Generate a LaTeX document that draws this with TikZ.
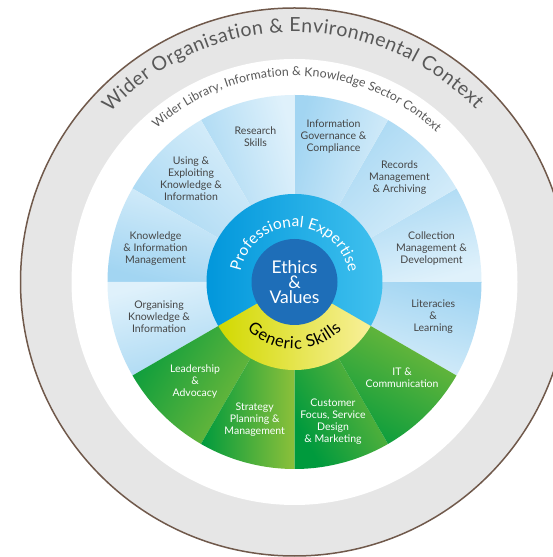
\documentclass[tikz,border=0pt]{standalone}
\usepackage{fontspec}
\setmainfont{Lato}
\usetikzlibrary{decorations.text}
\definecolor{ringgray}{HTML}{E6E6E6}
\definecolor{brownline}{HTML}{70594B}
\definecolor{txtgray}{HTML}{454545}
\definecolor{ctxgray}{HTML}{585858}
\definecolor{bdark}{HTML}{A2D5F2}
\definecolor{blight}{HTML}{DFF1FB}
\definecolor{gdark}{HTML}{009A3D}
\definecolor{glight}{HTML}{8CC03A}
\definecolor{ringblueL}{HTML}{0096DB}
\definecolor{ringblueR}{HTML}{45C4F0}
\definecolor{yelL}{HTML}{D2D900}
\definecolor{yelR}{HTML}{F8F09A}
\definecolor{ethicsblue}{HTML}{1E6EB8}
\begin{document}
\begin{tikzpicture}[x=1pt,y=1pt,
  seglabel/.style={align=center, font=\fontsize{10.5}{12}\selectfont, text=txtgray, inner sep=0pt},
  greenlabel/.style={seglabel, text=white}]
\useasboundingbox (0,0) rectangle (553,557);
\clip (0,0) rectangle (553,557);
\fill[white] (0,0) rectangle (553,557);
\begin{scope}[shift={(294.5,275)}]
\coordinate (C) at (0,0);
% outer rings
\draw[brownline, line width=1.5pt, fill=ringgray] (C) circle[radius=274];
\fill[white] (C) circle[radius=223];
% context texts
\path[decorate, decoration={text along path, text align={fit to path},
  text={|\fontsize{19.5}{20}\selectfont\color{ctxgray}|Wider Organisation {\&} Environmental Context}}]
  (137.5:250) arc[start angle=137.5, end angle=43.5, radius=250];
\path[decorate, decoration={text along path, text align={fit to path},
  text={|\fontsize{12.3}{13}\selectfont\color{ctxgray}|Wider Library, Information {\&} Knowledge Sector Context}}]
  (132:206) arc[start angle=132, end angle=46.5, radius=206];
% segments
\foreach \a in {-30,0,30,60,90,120,150,180}{
  \pgfmathsetmacro\sa{\a+15}
  \shade[top color=bdark, bottom color=blight, shading angle=\sa]
    (0,0) -- (\a:187) arc[start angle=\a, delta angle=30, radius=187] -- cycle;
}
\foreach \a in {210,240,270,300}{
  \pgfmathsetmacro\sa{\a+30}
  \shade[top color=glight, middle color=gdark!72!glight, bottom color=gdark, shading angle=\sa]
    (0,0) -- (\a:187) arc[start angle=\a, delta angle=30, radius=187] -- cycle;
}
% middle ring
\shade[left color=ringblueL, right color=ringblueR]
  (0,0) -- (-30:88) arc[start angle=-30, end angle=210, radius=88] -- cycle;
\shade[left color=yelL, right color=yelR]
  (0,0) -- (210:88) arc[start angle=210, end angle=330, radius=88] -- cycle;
\path[decorate, decoration={text along path, text align={fit to path},
  text={|\fontsize{15.5}{16}\selectfont\color{white}|Professional Expertise}}]
  (169:55) arc[start angle=169, end angle=10, radius=55];
\path[decorate, decoration={text along path, text align={fit to path},
  text={|\fontsize{16.5}{17}\selectfont\color{black}|Generic Skills}}]
  (225:67) arc[start angle=225, end angle=315, radius=67];
% centre
\fill[ethicsblue] (C) circle[radius=43];
\node[align=center, text=white, font=\fontsize{17.5}{15}\selectfont] (ethics) at (0,0) {Ethics\\\&\\Values};
% labels
\node[seglabel] (research) at (-39,145.5) {Research\\Skills};
\node[seglabel] (infogov) at (39,145.5) {Information\\Governance \&\\Compliance};
\node[seglabel] (records) at (105,104) {Records\\Management\\\& Archiving};
\node[seglabel] (collection) at (137,33.3) {Collection\\Management \&\\Development};
\node[seglabel] (literacies) at (138.7,-35) {Literacies\\\&\\Learning};
\node[greenlabel] (it) at (107.6,-95.4) {IT \&\\Communication};
\node[greenlabel] (customer) at (38.5,-139.5) {Customer\\Focus, Service\\Design\\\& Marketing};
\node[greenlabel] (strategy) at (-39.8,-137.8) {Strategy\\Planning \&\\Management};
\node[greenlabel] (leadership) at (-99.5,-99.7) {Leadership\\\&\\Advocacy};
\node[seglabel] (organising) at (-135.5,-35) {Organising\\Knowledge \&\\Information};
\node[seglabel] (kim) at (-139,33.3) {Knowledge\\\& Information\\Management};
\node[seglabel] (using) at (-103.5,103) {Using \&\\Exploiting\\Knowledge \&\\Information};
\end{scope}
\end{tikzpicture}
\end{document}
